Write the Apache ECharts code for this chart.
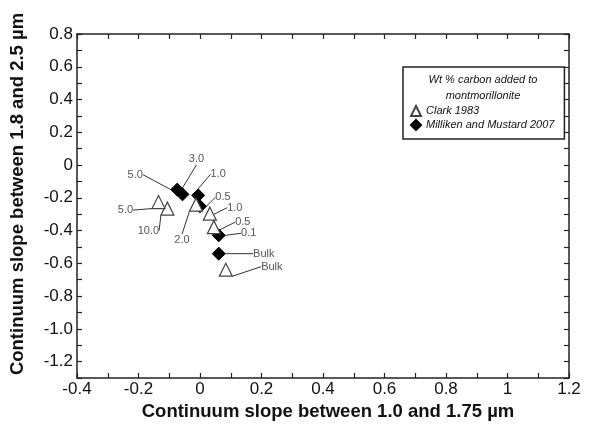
<html>
<meta charset="UTF-8">
<head>
    <script src="https://cdn.jsdelivr.net/npm/echarts@6/dist/echarts.min.js"></script>
</head>
<body style="margin:0">
<div id="chart" style="width:616px;height:430px;"></div>
<script>
    // Clark 1983 (triangles)
    var clarkNames = ['10.0', '5.0', '2.0', '1.0', '0.5', 'Bulk'];
    var clarkX = [-0.106, -0.135, -0.013, 0.032, 0.045, 0.084];
    var clarkY = [-0.266, -0.226, -0.242, -0.297, -0.379, -0.639];
    // Milliken and Mustard 2007 (diamonds)
    var millNames = ['5.0', '3.0', '1.0', '0.5', '0.1', 'Bulk'];
    var millX = [-0.074, -0.057, -0.006, 0.0, 0.061, 0.061];
    var millY = [-0.150, -0.179, -0.185, -0.252, -0.429, -0.541];

    // label offsets in px (text centre relative to marker)
    var clarkOff = [[-19, 22], [-33, 8], [-14, 35], [25, -6], [29, -5], [46, -3]];
    var millOff = [[-42, -15], [14, -35], [20, -21], [23, -9], [30, -2], [45, 0]];

    var FONT = 'Liberation Sans, Arial, sans-serif';

    function pts(xs, ys, names) {
        var out = [];
        for (var i = 0; i < xs.length; i++) {
            out.push({value: [xs[i], ys[i]], name: names[i]});
        }
        return out;
    }

    function xFmt(v) {
        var r = Math.round(v * 10);
        if (r % 2 !== 0) return '';
        return String(r / 10);
    }
    function yFmt(v) {
        var r = Math.round(v * 10);
        if (r % 2 !== 0) return '';
        if (r === 0) return '0';
        return (r / 10).toFixed(1);
    }

    var axisLine = {show: true, onZero: false, lineStyle: {color: '#222', width: 1.5}};
    var axisTick = {show: true, inside: true, length: 5, lineStyle: {color: '#222', width: 1.2}};

    var chart = echarts.init(document.getElementById('chart'));
    chart.setOption({
        animation: false,
        backgroundColor: '#fff',
        grid: {left: 77, right: 47, top: 34, bottom: 52},
        xAxis: [{
            type: 'value', min: -0.4, max: 1.2, interval: 0.1,
            axisLine: axisLine, axisTick: axisTick, splitLine: {show: false},
            axisLabel: {formatter: xFmt, color: '#111', fontSize: 17, fontFamily: FONT, margin: 3},
            name: 'Continuum slope between 1.0 and 1.75 µm',
            nameLocation: 'middle', nameGap: 22,
            nameTextStyle: {fontSize: 18.5, fontWeight: 'bold', color: '#111', fontFamily: FONT, padding: [0, 0, 0, 10]}
        }, {
            type: 'value', position: 'top', min: -0.4, max: 1.2, interval: 0.1,
            axisLine: axisLine, axisTick: axisTick, splitLine: {show: false},
            axisLabel: {show: false}
        }],
        yAxis: [{
            type: 'value', min: -1.3, max: 0.8, interval: 0.1,
            axisLine: axisLine, axisTick: axisTick, splitLine: {show: false},
            axisLabel: {formatter: yFmt, color: '#111', fontSize: 17, fontFamily: FONT, margin: 4},
            name: 'Continuum slope between 1.8 and 2.5 µm',
            nameLocation: 'middle', nameGap: 50,
            nameTextStyle: {fontSize: 18.5, fontWeight: 'bold', color: '#111', fontFamily: FONT, padding: [0, 0, 0, 24]}
        }, {
            type: 'value', position: 'right', min: -1.3, max: 0.8, interval: 0.1,
            axisLine: axisLine, axisTick: axisTick, splitLine: {show: false},
            axisLabel: {show: false}
        }],
        legend: {
            data: ['Clark 1983', 'Milliken and Mustard 2007'],
            orient: 'vertical',
            left: 403, top: 67,
            padding: [38, 10, 8, 7],
            itemGap: 2,
            itemWidth: 10, itemHeight: 10,
            borderColor: '#222', borderWidth: 1.5,
            textStyle: {fontSize: 11, fontStyle: 'italic', color: '#111', fontFamily: FONT}
        },
        graphic: [{
            type: 'text', x: 483, y: 88,
            style: {
                text: 'Wt % carbon added to\nmontmorillonite',
                align: 'center', verticalAlign: 'middle', lineHeight: 16,
                font: 'italic 11px ' + FONT, fill: '#111'
            }
        }],
        series: [{
            name: 'Milliken and Mustard 2007',
            type: 'scatter',
            symbol: 'diamond',
            symbolSize: 13,
            itemStyle: {color: '#000', borderColor: '#000', borderWidth: 1, opacity: 1},
            data: pts(millX, millY, millNames),
            label: {show: true, position: 'inside', formatter: '{b}', color: '#555', fontSize: 11, fontFamily: FONT},
            labelLine: {show: true, lineStyle: {color: '#333', width: 1}},
            labelLayout: function (p) {
                return {dx: millOff[p.dataIndex][0], dy: millOff[p.dataIndex][1]};
            },
            z: 2
        }, {
            name: 'Clark 1983',
            type: 'scatter',
            symbol: 'triangle',
            symbolSize: [13, 13],
            itemStyle: {color: '#fff', borderColor: '#444', borderWidth: 1.2, opacity: 1},
            data: pts(clarkX, clarkY, clarkNames),
            label: {show: true, position: 'inside', formatter: '{b}', color: '#555', fontSize: 11, fontFamily: FONT},
            labelLine: {show: true, lineStyle: {color: '#333', width: 1}},
            labelLayout: function (p) {
                return {dx: clarkOff[p.dataIndex][0], dy: clarkOff[p.dataIndex][1]};
            },
            z: 3
        }]
    });
</script>
</body>
</html>
